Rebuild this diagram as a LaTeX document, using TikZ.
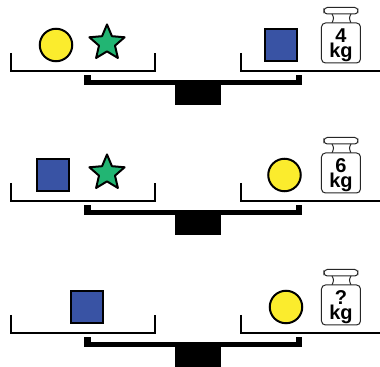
\documentclass[tikz,border=0pt]{standalone}
\usepackage{fontspec}
\setmainfont{Liberation Sans}
\usetikzlibrary{shapes.geometric}
\definecolor{cyel}{HTML}{FBEC2D}
\definecolor{cgrn}{HTML}{22B573}
\definecolor{cblu}{HTML}{3953A4}
\tikzset{
 coin/.style={circle,draw=black,line width=1.5pt,fill=cyel,minimum size=32.5*0.75pt,inner sep=0pt},
 block/.style={rectangle,draw=black,line width=1.5pt,fill=cblu,minimum size=32.5*0.75pt,inner sep=0pt},
 starry/.style={star,star points=5,star point ratio=2.2,draw=black,line width=1.5pt,line join=round,fill=cgrn,minimum size=37*0.75pt,inner sep=0pt},
 pan/.style={draw=black,line width=1.1pt,line cap=butt,line join=miter},
 beamline/.style={draw=black,line width=3.4pt,line cap=butt},
 solid/.style={fill=black,draw=none},
 wbody/.style={draw=black!85,line width=0.75pt,fill=white,rounded corners=3pt},
 wlabel/.style={font=\bfseries\fontsize{15}{11.5}\selectfont,align=center,inner sep=0pt,text=black}
}
\newcommand{\balance}[1]{%
 \begin{scope}[yshift=-#1*0.75pt]
  \draw[pan] (11,53)--(11,71)--(155,71)--(155,53);
  \draw[pan] (241,53)--(241,71)--(380,71);
  \fill[solid] (84,75) rectangle (91,85);
  \fill[solid] (296,75) rectangle (302,85);
  \draw[beamline] (84,82.7)--(302,82.7);
  \fill[solid] (175,84) rectangle (221,105);
 \end{scope}}
\newcommand{\kgweight}[2]{%
 \begin{scope}[yshift=-#1*0.75pt]
  \draw[wbody,rounded corners=2.5pt] (324,7.5) rectangle (358,14);
  \draw[draw=black!85,line width=0.75pt] (332,14) .. controls (334,18) .. (332,23) (351,14) .. controls (349,18) .. (351,23);
  \draw[wbody] (321.5,23) rectangle (360.5,63);
  \node[wlabel] at (341,45) {#2\\kg};
 \end{scope}}
\begin{document}
\begin{tikzpicture}[x=0.75pt,y=-0.75pt]
\useasboundingbox (0,0) rectangle (380,367);
\fill[white] (0,0) rectangle (380,367);
\balance{0}
\balance{130}
\balance{262}
\node[coin] (c1) at (56,45) {};
\node[starry] (s1) at (107,43) {};
\node[block] (b1) at (281,45) {};
\kgweight{0}{4}
\node[block] (b2) at (53,175) {};
\node[starry] (s2) at (107,173) {};
\node[coin] (c2) at (284.5,175) {};
\kgweight{130}{6}
\node[block] (b3) at (87,307) {};
\node[coin] (c3) at (286,307) {};
\kgweight{262}{?}
\end{tikzpicture}
\end{document}
